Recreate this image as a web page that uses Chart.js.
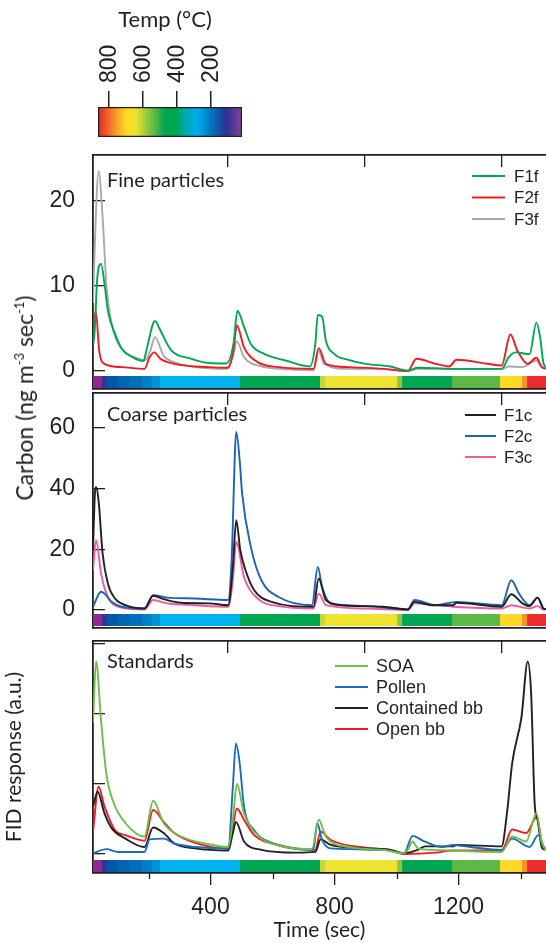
<!DOCTYPE html>
<html>
<head>
<meta charset="utf-8">
<script src="https://cdn.jsdelivr.net/npm/chart.js@4.4.1/dist/chart.umd.min.js"></script>
<style>
  body { margin: 0; background: #fff; width: 546px; height: 943px; overflow: hidden; position: relative; }
  canvas { position: absolute; left: 0; }
  #carbon { position: absolute; left: 24px; top: 398px; transform: translate(-50%, -50%) rotate(-90deg);
    white-space: nowrap; font-family: Lato, sans-serif; font-size: 23px; color: #231f20; }
  #carbon sup { font-size: 13px; }
</style>
</head>
<body>
<canvas id="cb" width="546" height="145" style="top:0px"></canvas>
<canvas id="p1" width="546" height="251" style="top:140px"></canvas>
<canvas id="p2" width="546" height="240" style="top:391px"></canvas>
<canvas id="p3" width="546" height="313" style="top:630px"></canvas>
<div id="carbon">Carbon (ng m<sup>-3</sup> sec<sup>-1</sup>)</div>
<script>
const ink = '#231f20';
const xMin = 21, xMax = 1482;
const sepTicks = [456, 898, 1340];
const minorTicks = [200, 600, 1000, 1400];
const timeTicks = [400, 800, 1200];

// temperature programme strip (start time of each colour band)
const stripStart = [21, 50, 66, 100, 140, 180, 210, 237, 495, 753, 769, 1002, 1018, 1179, 1334, 1405, 1421];
const stripColor = ['#92278f', '#2b3990', '#0058a8', '#0066b3', '#0070bb', '#0080c6', '#0093d6', '#00b2ef',
  '#00a651', '#c4d940', '#eee32e', '#8dc63f', '#00a651', '#5cb947', '#ffd923', '#f5902a', '#ec2b2f'];

// colour bar
const cbTicks = [200, 400, 600, 800];
const cbTemps = [863, 775, 700, 647, 569, 471, 402, 363, 284, 196, 108, 30];
const cbColors = ['#e8262a', '#f5892a', '#ffd923', '#eee42f', '#8dc63f', '#00a651', '#00a651', '#00a99d',
  '#00aeef', '#0072bc', '#2e3192', '#7b3f98'];

// Fine particles
const f1fT = [21, 26, 35, 47, 58, 69, 92, 114, 148, 184, 193, 221, 238, 272, 339, 395, 451, 474, 487, 508, 530, 575, 642, 721, 738, 746, 760, 772, 800, 845, 901, 980, 1036, 1069, 1182, 1339, 1362, 1384, 1429, 1451, 1463, 1474, 1482];
const f1fV = [3, 4.5, 11, 12.6, 10.3, 7.1, 4.4, 2.6, 1.65, 1.2, 2.4, 5.9, 4.8, 2.5, 1.45, 0.95, 0.9, 3.2, 7.1, 5.2, 3.2, 2.0, 1.25, 0.55, 3.2, 6.6, 6.4, 3.6, 2.0, 1.33, 0.86, 0.55, 0.08, 0.4, 0.27, 0.27, 1.65, 2.2, 2.0, 5.7, 4.0, 0.9, 0.5];
const f2fT = [21, 30, 41, 58, 114, 187, 204, 219, 238, 283, 395, 457, 474, 485, 508, 552, 620, 732, 749, 772, 845, 957, 1036, 1064, 1126, 1170, 1193, 1294, 1339, 1367, 1390, 1423, 1451, 1468, 1482];
const f2fV = [4.4, 7.1, 2.4, 0.86, 0.47, 0.27, 1.65, 2.2, 1.45, 0.86, 0.47, 0.4, 2.4, 5.4, 2.8, 1.06, 0.47, 0.27, 2.7, 0.86, 0.47, 0.27, 0, 1.45, 0.86, 0.55, 1.33, 0.86, 0.67, 4.3, 2.4, 0.86, 1.57, 0.47, 0.3];
const f3fT = [21, 26, 39, 52, 64, 81, 97, 126, 170, 187, 204, 221, 249, 283, 339, 451, 472, 485, 508, 564, 620, 732, 749, 766, 845, 957, 1036, 1069, 1182, 1339, 1362, 1406, 1451, 1468, 1482];
const f3fV = [8, 14, 23.5, 18.1, 10.3, 5.6, 3.6, 2.2, 1.45, 1.25, 2.2, 4.0, 1.8, 1.05, 0.55, 0.27, 1.8, 3.5, 1.65, 0.55, 0.27, 0.1, 2.4, 0.85, 0.27, 0.27, 0, 0.27, 0.27, 0.27, 0.55, 0.47, 1.25, 0.5, 0.3];

// Coarse particles
const f1cT = [21, 27, 31, 39, 52, 69, 92, 126, 187, 215, 249, 305, 395, 457, 472, 483, 496, 513, 541, 597, 732, 749, 772, 822, 957, 1036, 1058, 1114, 1182, 1193, 1339, 1370, 1406, 1429, 1455, 1474, 1482];
const f1cV = [20, 38, 40.5, 36, 18.6, 8.7, 3.8, 1.6, 0.5, 4.7, 3.6, 2.4, 2.2, 1.6, 14.2, 29.6, 19.7, 13.1, 6.5, 2.7, 1.1, 10.4, 3.3, 1.6, 1.1, 0.2, 2.7, 1.6, 1.6, 2.4, 1.1, 5.2, 2.2, 1.3, 4.1, 0.5, 0.3];
const f2cT = [21, 47, 58, 81, 114, 187, 215, 260, 350, 457, 468, 483, 494, 502, 530, 564, 620, 727, 746, 760, 788, 901, 1036, 1058, 1126, 1193, 1339, 1370, 1395, 1429, 1455, 1474, 1482];
const f2cV = [1.1, 6.0, 5.4, 2.7, 1.1, 0.5, 4.9, 4.1, 3.8, 3.3, 16.4, 58.6, 49.3, 38.3, 20.8, 9.8, 4.3, 1.6, 14.2, 7.6, 2.2, 1.3, 0.2, 3.3, 1.6, 2.7, 1.6, 9.8, 5.4, 1.6, 4.1, 0.5, 0.3];
const f3cT = [21, 31, 47, 69, 103, 187, 215, 260, 350, 457, 472, 483, 508, 552, 620, 732, 749, 772, 901, 1036, 1058, 1182, 1339, 1370, 1429, 1455, 1474, 1482];
const f3cV = [13.1, 23, 12, 4.3, 1.1, 0.2, 3.3, 2.2, 1.6, 1.1, 9.8, 22.4, 10.9, 3.8, 1.3, 0.5, 5.4, 1.6, 0.5, 0, 2.2, 1.1, 0.5, 1.6, 0.5, 1.3, 0.2, 0.2];

// Standards
const soaT = [21, 31, 47, 64, 86, 126, 187, 215, 249, 305, 395, 457, 472, 485, 508, 552, 642, 727, 749, 772, 845, 957, 1024, 1036, 1052, 1069, 1114, 1339, 1373, 1418, 1451, 1468, 1479];
const soaV = [1.87, 2.75, 1.91, 1.15, 0.75, 0.44, 0.25, 0.76, 0.44, 0.25, 0.14, 0.10, 0.49, 1.0, 0.58, 0.27, 0.10, 0.07, 0.49, 0.25, 0.10, 0.06, 0.01, 0.06, 0.18, 0.08, 0.06, 0.03, 0.25, 0.18, 0.58, 0.18, 0.06];
const pollenT = [21, 64, 103, 187, 204, 249, 283, 350, 457, 472, 482, 494, 508, 541, 597, 732, 744, 760, 788, 957, 1024, 1052, 1081, 1148, 1182, 1238, 1339, 1373, 1429, 1457, 1474, 1482];
const pollenV = [0.01, 0.07, 0.03, 0.03, 0.21, 0.22, 0.15, 0.10, 0.08, 0.96, 1.58, 1.3, 0.68, 0.34, 0.16, 0.06, 0.44, 0.2, 0.08, 0.06, 0.01, 0.26, 0.2, 0.10, 0.13, 0.10, 0.06, 0.22, 0.10, 0.27, 0.10, 0.08];
const contT = [21, 36, 58, 81, 126, 187, 215, 249, 283, 350, 457, 472, 482, 508, 564, 676, 738, 755, 788, 901, 980, 1024, 1069, 1092, 1182, 1193, 1339, 1356, 1373, 1403, 1423, 1434, 1446, 1455, 1468, 1479];
const contV = [0.68, 0.89, 0.58, 0.37, 0.22, 0.10, 0.38, 0.30, 0.15, 0.08, 0.05, 0.30, 0.46, 0.18, 0.06, 0.02, 0.03, 0.21, 0.13, 0.08, 0.06, 0.01, 0.06, 0.11, 0.11, 0.13, 0.11, 0.58, 1.3, 1.96, 2.75, 2.3, 0.68, 0.49, 0.10, 0.06];
const openT = [21, 39, 58, 92, 126, 187, 215, 249, 283, 350, 457, 472, 485, 508, 541, 620, 738, 755, 788, 901, 980, 1024, 1126, 1182, 1339, 1373, 1418, 1451, 1468, 1479];
const openV = [0.32, 0.96, 0.68, 0.34, 0.27, 0.19, 0.63, 0.46, 0.30, 0.16, 0.08, 0.39, 0.65, 0.49, 0.27, 0.13, 0.06, 0.32, 0.2, 0.09, 0.06, 0.0, 0.02, 0.05, 0.05, 0.35, 0.30, 0.52, 0.18, 0.06];

function series(label, ts, vs, color) {
  return { label, data: ts.map((t, i) => ({ x: t, y: vs[i] })), borderColor: color, backgroundColor: color };
}

function noPad(s) {
  s.paddingTop = 0; s.paddingBottom = 0; s.paddingLeft = 0; s.paddingRight = 0;
}

// strip, panel label, legend, minor ticks
const deco = {
  id: 'deco',
  beforeDatasetsDraw(chart, args, o) {
    const { ctx, chartArea: a, scales: { x } } = chart;
    ctx.save();
    stripStart.forEach((t0, i) => {
      const t1 = i + 1 < stripStart.length ? stripStart[i + 1] : xMax;
      const p0 = x.getPixelForValue(t0), p1 = x.getPixelForValue(t1);
      ctx.fillStyle = stripColor[i];
      ctx.fillRect(p0, a.bottom - o.stripOff - 12, p1 - p0 + 0.6, 12);
    });
    ctx.restore();
  },
  afterDraw(chart, args, o) {
    const { ctx, chartArea: a, scales: { x } } = chart;
    ctx.save();
    ctx.fillStyle = ink;
    ctx.textBaseline = 'middle';
    ctx.font = '20px Lato';
    ctx.fillText(o.title, 107, a.top + o.titleDy);
    ctx.font = o.legendFont;
    chart.data.datasets.forEach((ds, i) => {
      const y = a.top + o.legDy + i * o.legStep;
      ctx.strokeStyle = ds.borderColor;
      ctx.lineWidth = 2;
      ctx.beginPath();
      ctx.moveTo(o.legX0, y);
      ctx.lineTo(o.legX1, y);
      ctx.stroke();
      ctx.fillStyle = ink;
      ctx.fillText(ds.label, o.legTx, y + 1);
    });
    if (o.minor) {
      ctx.strokeStyle = ink;
      ctx.lineWidth = 1.3;
      minorTicks.forEach(v => {
        const px = Math.round(x.getPixelForValue(v)) + 0.5;
        ctx.beginPath();
        ctx.moveTo(px, a.bottom);
        ctx.lineTo(px, a.bottom + 6);
        ctx.stroke();
      });
    }
    ctx.restore();
  }
};

function topAxis() {
  return {
    type: 'linear', position: 'top', min: xMin, max: xMax,
    afterBuildTicks: s => { s.ticks = sepTicks.map(v => ({ value: v })); },
    ticks: { display: false },
    grid: { drawOnChartArea: false, tickLength: -12, color: ink, lineWidth: 1.3 },
    border: { color: ink, width: 1.8 },
    afterFit: s => { s.height = 0; noPad(s); }
  };
}

function leftAxis(min, max, ticks, showLabels, title) {
  return {
    min, max,
    afterBuildTicks: s => { s.ticks = ticks.map(v => ({ value: v })); },
    ticks: { display: showLabels, color: ink, padding: 30, font: { family: 'Liberation Sans', size: 23 } },
    grid: { drawOnChartArea: false, tickLength: -12, color: ink, lineWidth: 1.3 },
    border: { color: ink, width: 1.8 },
    title: title ? { display: true, text: title, color: ink, padding: { top: 2, bottom: 0 }, font: { family: 'Lato', size: 21 } } : { display: false },
    afterFit: s => { s.width = 93; noPad(s); }
  };
}

function plainBottom() {
  return {
    type: 'linear', position: 'bottom', min: xMin, max: xMax,
    ticks: { display: false },
    grid: { drawOnChartArea: false, drawTicks: false },
    border: { color: ink, width: 1.8 },
    afterFit: s => { s.height = 0; noPad(s); }
  };
}

function panel(id, datasets, pad, yAxis, xAxis, deco_opts) {
  return new Chart(document.getElementById(id), {
    type: 'line',
    data: { datasets },
    options: {
      responsive: false,
      animation: false,
      layout: { padding: { top: pad[0], bottom: pad[1], left: 0, right: 0 } },
      elements: { point: { radius: 0 }, line: { borderWidth: 1.9, cubicInterpolationMode: 'monotone' } },
      plugins: { legend: { display: false }, tooltip: { enabled: false }, deco: deco_opts },
      scales: { x: xAxis, xTop: topAxis(), y: yAxis }
    },
    plugins: [deco]
  });
}

Chart.defaults.font.family = 'Liberation Sans';

// colour bar labels and title
const cbText = {
  id: 'cbText',
  afterDraw(chart) {
    const { ctx, scales: { x } } = chart;
    ctx.save();
    ctx.fillStyle = ink;
    ctx.font = '23px Liberation Sans';
    ctx.textAlign = 'left';
    ctx.textBaseline = 'middle';
    cbTicks.forEach(v => {
      ctx.save();
      ctx.translate(x.getPixelForValue(v) + 1, 83);
      ctx.rotate(-Math.PI / 2);
      ctx.fillText(String(v), 0, 0);
      ctx.restore();
    });
    ctx.font = '22px Lato';
    ctx.textAlign = 'center';
    ctx.fillText('Temp (°C)', 165, 20);
    ctx.restore();
  }
};

new Chart(document.getElementById('cb'), {
  type: 'bar',
  data: {
    labels: ['Temp'],
    datasets: [{
      data: [[18, 865]],
      backgroundColor: c => {
        const ch = c.chart, a = ch.chartArea;
        if (!a) return null;
        const sx = ch.scales.x;
        const g = ch.ctx.createLinearGradient(a.left, 0, a.right, 0);
        cbTemps.forEach((t, i) => {
          const f = (sx.getPixelForValue(t) - a.left) / (a.right - a.left);
          g.addColorStop(Math.min(1, Math.max(0, f)), cbColors[i]);
        });
        return g;
      },
      borderColor: ink, borderWidth: 1.6, borderSkipped: false,
      barPercentage: 1, categoryPercentage: 1
    }]
  },
  options: {
    indexAxis: 'y', responsive: false, animation: false,
    layout: { padding: { left: 98, right: 304, top: 0, bottom: 8 } },
    plugins: { legend: { display: false }, tooltip: { enabled: false } },
    scales: {
      x: {
        type: 'linear', position: 'top', reverse: true, min: 18, max: 865,
        afterBuildTicks: s => { s.ticks = cbTicks.map(v => ({ value: v })); },
        ticks: { display: false },
        grid: { drawOnChartArea: false, tickLength: 16, color: ink, lineWidth: 1.5 },
        border: { display: false },
        afterFit: s => { s.height = 107; noPad(s); }
      },
      y: { display: false }
    }
  },
  plugins: [cbText]
});

panel('p1', [
  series('F1f', f1fT, f1fV, '#00a651'),
  series('F2f', f2fT, f2fV, '#ed1c24'),
  series('F3f', f3fT, f3fV, '#a7a9ac')
], [15, 2], leftAxis(-2.1, 25.4, [0, 10, 20], true), plainBottom(),
  { title: 'Fine particles', titleDy: 26, legendFont: '17px Liberation Sans', legDy: 21, legStep: 21.5,
    legX0: 472, legX1: 505, legTx: 514, stripOff: 1, minor: false });

panel('p2', [
  series('F1c', f1cT, f1cV, ink),
  series('F2c', f2cT, f2cV, '#1c63b7'),
  series('F3c', f3cT, f3cV, '#ec5aa0')
], [2, 3], leftAxis(-5.9, 71.4, [0, 20, 40, 60], true), plainBottom(),
  { title: 'Coarse particles', titleDy: 22, legendFont: '17px Liberation Sans', legDy: 22, legStep: 21,
    legX0: 465, legX1: 496, legTx: 504, stripOff: 2, minor: false });

panel('p3', [
  series('SOA', soaT, soaV, '#6cbe45'),
  series('Pollen', pollenT, pollenV, '#1b6db6'),
  series('Contained bb', contT, contV, ink),
  series('Open bb', openT, openV, '#ed1c24')
], [11, 0], leftAxis(-0.271, 3.043, [0, 1, 2, 3], false, 'FID response (a.u.)'), {
  type: 'linear', position: 'bottom', min: xMin, max: xMax,
  afterBuildTicks: s => { s.ticks = timeTicks.map(v => ({ value: v })); },
  ticks: { color: ink, padding: 9, font: { family: 'Liberation Sans', size: 23 }, callback: v => String(v) },
  grid: { drawOnChartArea: false, tickLength: 12, color: ink, lineWidth: 1.3 },
  border: { color: ink, width: 1.8 },
  title: { display: true, text: 'Time (sec)', color: ink, padding: { top: 0, bottom: 0 }, font: { family: 'Lato', size: 21 } },
  afterFit: s => { s.height = 70; noPad(s); }
}, { title: 'Standards', titleDy: 21, legendFont: '18px Liberation Sans', legDy: 25, legStep: 21,
    legX0: 335, legX1: 368, legTx: 376, stripOff: 1, minor: true });
</script>
</body>
</html>
